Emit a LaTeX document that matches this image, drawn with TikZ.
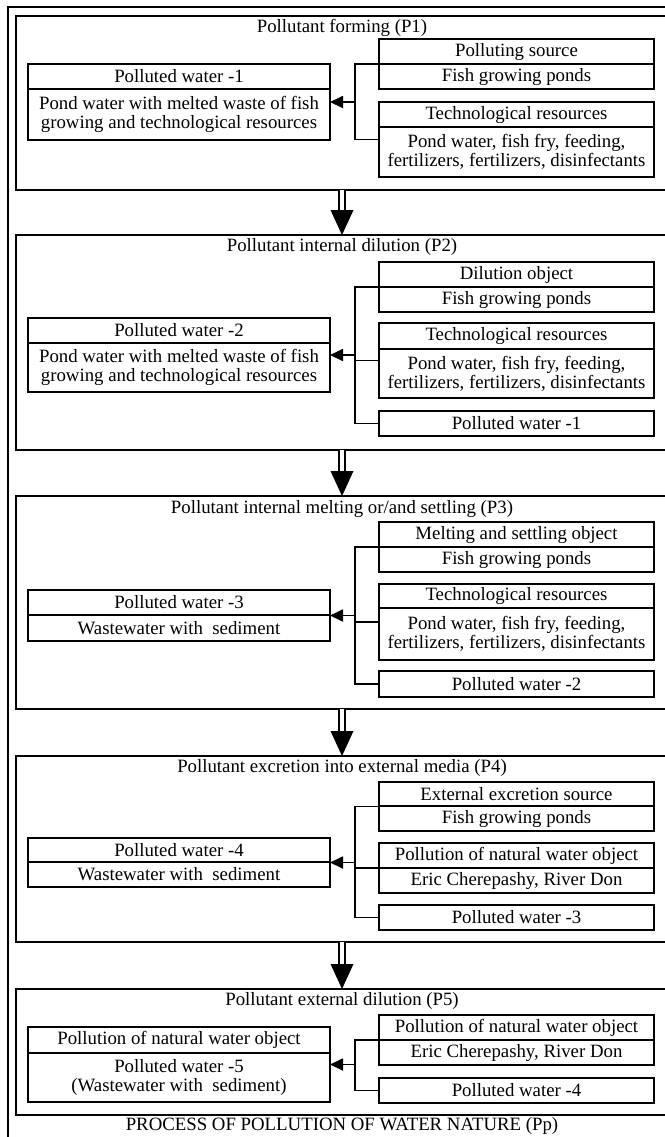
\documentclass[tikz,border=0pt]{standalone}
\usepackage{fontspec}
\setmainfont{Liberation Serif}
\usetikzlibrary{arrows.meta,calc}
\begin{document}
\begin{tikzpicture}[x=0.5pt,y=-0.5pt,
 bx/.style={draw,line width=0.9pt,inner sep=0pt,outer sep=0pt,align=center,anchor=north west,font=\fontsize{9.4}{9.6}\selectfont},
 lft/.style={bx,minimum width=151pt},
 rgt/.style={bx,minimum width=137.5pt},
 stage/.style={draw,line width=0.9pt,inner sep=0pt,outer sep=0pt,anchor=north west,minimum width=326pt},
 ttl/.style={font=\fontsize{9.4}{9.6}\selectfont,inner sep=0pt},
 wire/.style={line width=0.9pt},
 tip/.style={wire,-{Triangle[length=6.5pt,width=6pt]}},
 shaft/.style={line width=0.9pt,double distance=2.2pt},
]
\useasboundingbox (0,0) rectangle (665,1137);
\clip (0,0) rectangle (665,1137);
\node[stage,minimum width=340pt,minimum height=580pt] (frame) at (8,7) {};
% ---------- Stage 1
\node[stage,minimum height=87pt] (s1) at (16,16) {};
\node[ttl] (t1) at (342,28) {Pollutant forming (P1)};
\node[lft,minimum height=12.5pt] (L1h) at (28,64) {Polluted water -1};
\node[lft,minimum height=25.5pt] (L1b) at (L1h.south west) {Pond water with melted waste of fish\\growing and technological resources};
\node[rgt,minimum height=12.5pt] (R1ah) at (379,39) {Polluting source};
\node[rgt,minimum height=12.5pt] (R1ab) at (R1ah.south west) {Fish growing ponds};
\node[rgt,minimum height=12.5pt] (R1bh) at (379,102) {Technological resources};
\node[rgt,minimum height=25pt] (R1bb) at (R1bh.south west) {Pond water, fish fry, feeding,\\fertilizers, fertilizers, disinfectants};
\coordinate (L1e) at ($(L1h.north east)!.5!(L1b.south east)$);
\coordinate (R1a) at ($(R1ah.north west)!.5!(R1ab.south west)$);
\coordinate (R1b) at ($(R1bh.north west)!.5!(R1bb.south west)$);
\coordinate (J1) at ($(L1e)+(25,0)$);
\draw[wire] (R1a) -| (J1) |- (R1b);
\draw[tip] (J1) -- (L1e);
% ---------- Stage 2
\node[stage,minimum height=107.5pt] (s2) at (16,235) {};
\node[ttl] (t2) at (342,247) {Pollutant internal dilution (P2)};
\node[lft,minimum height=12.5pt] (L2h) at (28,318) {Polluted water -2};
\node[lft,minimum height=24.5pt] (L2b) at (L2h.south west) {Pond water with melted waste of fish\\growing and technological resources};
\node[rgt,minimum height=12.5pt] (R2ah) at (379,262) {Dilution object};
\node[rgt,minimum height=12.5pt] (R2ab) at (R2ah.south west) {Fish growing ponds};
\node[rgt,minimum height=13pt] (R2bh) at (379,323) {Technological resources};
\node[rgt,minimum height=24.5pt] (R2bb) at (R2bh.south west) {Pond water, fish fry, feeding,\\fertilizers, fertilizers, disinfectants};
\node[rgt,minimum height=12.5pt] (R2c) at (379,411) {Polluted water -1};
\coordinate (L2e) at ($(L2h.north east)!.5!(L2b.south east)$);
\coordinate (R2a) at ($(R2ah.north west)!.5!(R2ab.south west)$);
\coordinate (R2b) at ($(R2bh.north west)!.5!(R2bb.south west)$);
\coordinate (J2) at ($(L2e)+(25,0)$);
\draw[wire] (R2a) -| (J2) |- (R2c.west);
\draw[wire] (R2b) -- (J2 |- R2b);
\draw[tip] (J2) -- (L2e);
% ---------- Stage 3
\node[stage,minimum height=106.5pt] (s3) at (16,496) {};
\node[ttl] (t3) at (342,509) {Pollutant internal melting or/and settling (P3)};
\node[lft,minimum height=12.5pt] (L3h) at (28,590) {Polluted water -3};
\node[lft,minimum height=13pt] (L3b) at (L3h.south west) {Wastewater with~ sediment};
\node[rgt,minimum height=12.5pt] (R3ah) at (379,522) {Melting and settling object};
\node[rgt,minimum height=12.5pt] (R3ab) at (R3ah.south west) {Fish growing ponds};
\node[rgt,minimum height=12pt] (R3bh) at (379,584) {Technological resources};
\node[rgt,minimum height=26pt] (R3bb) at (R3bh.south west) {Pond water, fish fry, feeding,\\fertilizers, fertilizers, disinfectants};
\node[rgt,minimum height=13pt] (R3c) at (379,671) {Polluted water -2};
\coordinate (L3e) at ($(L3h.north east)!.5!(L3b.south east)$);
\coordinate (R3a) at ($(R3ah.north west)!.5!(R3ab.south west)$);
\coordinate (R3b) at ($(R3bh.north west)!.5!(R3bb.south west)$);
\coordinate (J3) at ($(L3e)+(25,0)$);
\draw[wire] (R3a) -| (J3) |- (R3c.west);
\draw[wire] (R3b) -- (J3 |- R3b);
\draw[tip] (J3) -- (L3e);
% ---------- Stage 4
\node[stage,minimum height=93pt] (s4) at (16,756) {};
\node[ttl] (t4) at (342,768) {Pollutant excretion into external media (P4)};
\node[lft,minimum height=12pt] (L4h) at (28,838) {Polluted water -4};
\node[lft,minimum height=12.5pt] (L4b) at (L4h.south west) {Wastewater with~ sediment};
\node[rgt,minimum height=12pt] (R4ah) at (379,782) {External excretion source};
\node[rgt,minimum height=12.5pt] (R4ab) at (R4ah.south west) {Fish growing ponds};
\node[rgt,minimum height=12.5pt] (R4bh) at (379,843) {Pollution of natural water object};
\node[rgt,minimum height=12.5pt] (R4bb) at (R4bh.south west) {Eric Cherepashy, River Don};
\node[rgt,minimum height=12.5pt] (R4c) at (379,905) {Polluted water -3};
\coordinate (L4e) at ($(L4h.north east)!.5!(L4b.south east)$);
\coordinate (R4a) at ($(R4ah.north west)!.5!(R4ab.south west)$);
\coordinate (R4b) at ($(R4bh.north west)!.5!(R4bb.south west)$);
\coordinate (J4) at ($(L4e)+(25,0)$);
\draw[wire] (R4a) -| (J4) |- (R4c.west);
\draw[wire] (R4b) -- (J4 |- R4b);
\draw[tip] (J4) -- (L4e);
% ---------- Stage 5
\node[stage,minimum height=63pt] (s5) at (16,989) {};
\node[ttl] (t5) at (342,1001) {Pollutant external dilution (P5)};
\node[lft,minimum height=13pt] (L5h) at (28,1027) {Pollution of natural water object};
\node[lft,minimum height=24.5pt] (L5b) at (L5h.south west) {Polluted water -5\\(Wastewater with~ sediment)};
\node[rgt,minimum height=12.5pt] (R5ah) at (379,1015) {Pollution of natural water object};
\node[rgt,minimum height=12.5pt] (R5ab) at (R5ah.south west) {Eric Cherepashy, River Don};
\node[rgt,minimum height=12.5pt] (R5b) at (379,1078) {Polluted water -4};
\coordinate (L5e) at ($(L5h.north east)!.5!(L5b.south east)$);
\coordinate (R5a) at ($(R5ah.north west)!.5!(R5ab.south west)$);
\coordinate (J5) at ($(L5e)+(25,0)$);
\draw[wire] (R5a) -| (J5) |- (R5b.west);
\draw[tip] (J5) -- (L5e);
% ---------- bottom title
\node[ttl] (bt) at (342,1126) {PROCESS OF POLLUTION OF WATER NATURE (Pp)};
% ---------- stage arrows
\draw[shaft] (s1.south) -- ($(s2.north)+(0,-25)$);
\fill ($(s2.north)+(-11.5,-25)$) -- ($(s2.north)+(11.5,-25)$) -- (s2.north) -- cycle;
\draw[shaft] (s2.south) -- ($(s3.north)+(0,-25)$);
\fill ($(s3.north)+(-11.5,-25)$) -- ($(s3.north)+(11.5,-25)$) -- (s3.north) -- cycle;
\draw[shaft] (s3.south) -- ($(s4.north)+(0,-25)$);
\fill ($(s4.north)+(-11.5,-25)$) -- ($(s4.north)+(11.5,-25)$) -- (s4.north) -- cycle;
\draw[shaft] (s4.south) -- ($(s5.north)+(0,-25)$);
\fill ($(s5.north)+(-11.5,-25)$) -- ($(s5.north)+(11.5,-25)$) -- (s5.north) -- cycle;
\end{tikzpicture}
\end{document}
